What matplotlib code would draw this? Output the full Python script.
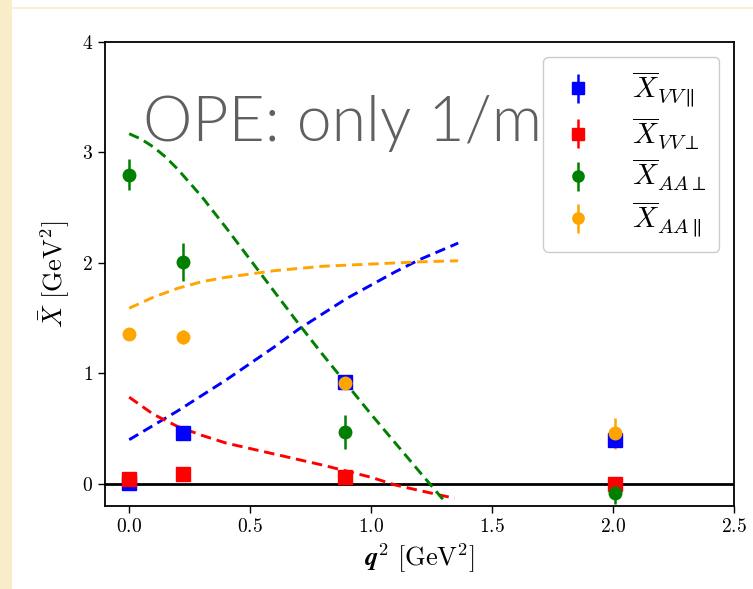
import matplotlib
matplotlib.use("Agg")
import matplotlib.pyplot as plt
from matplotlib.patches import Rectangle
from matplotlib.lines import Line2D
from matplotlib.ticker import FuncFormatter

plt.rcParams['mathtext.fontset'] = 'cm'
plt.rcParams['font.family'] = ['DejaVu Serif']

# ---- data ----
q2 = [0.0, 0.223, 0.894, 2.01]

vv_par = [0.01, 0.46, 0.92, 0.40]
vv_par_err = [0.02, 0.03, 0.03, 0.05]
vv_perp = [0.04, 0.09, 0.06, 0.0]
vv_perp_err = [0.02, 0.02, 0.02, 0.06]
aa_perp = [2.80, 2.01, 0.47, -0.08]
aa_perp_err = [0.14, 0.17, 0.15, 0.10]
aa_par = [1.36, 1.33, 0.91, 0.46]
aa_par_err = [0.05, 0.06, 0.04, 0.14]

# OPE curves (dashed)
ope_x_aa_perp = [0.0, 0.05, 0.1, 0.15, 0.2, 0.3, 0.4, 0.5, 0.6, 0.7, 0.8, 0.9, 1.0, 1.1, 1.2, 1.297]
ope_aa_perp = [3.17, 3.12, 3.05, 2.96, 2.85, 2.60, 2.32, 2.03, 1.74, 1.45, 1.17, 0.90, 0.63, 0.37, 0.11, -0.14]
ope_x = [0.0, 0.1, 0.2, 0.3, 0.4, 0.5, 0.6, 0.7, 0.8, 0.9, 1.0, 1.1, 1.2, 1.36]
ope_aa_par = [1.59, 1.69, 1.77, 1.83, 1.87, 1.90, 1.93, 1.95, 1.97, 1.98, 1.99, 2.00, 2.01, 2.02]
ope_vv_par = [0.40, 0.53, 0.66, 0.80, 0.94, 1.09, 1.24, 1.40, 1.54, 1.68, 1.80, 1.92, 2.03, 2.18]
ope_x_vv_perp = [0.0, 0.1, 0.2, 0.3, 0.4, 0.5, 0.6, 0.7, 0.8, 0.9, 1.0, 1.1, 1.2, 1.345]
ope_vv_perp = [0.785, 0.63, 0.52, 0.44, 0.37, 0.32, 0.27, 0.22, 0.17, 0.115, 0.06, -0.01, -0.06, -0.13]

labels = [r'$\overline{X}_{VV\parallel}$', r'$\overline{X}_{VV\perp}$',
          r'$\overline{X}_{AA\perp}$', r'$\overline{X}_{AA\parallel}$']
colors = ['blue', 'red', 'green', 'orange']
xticks = [0.0, 0.5, 1.0, 1.5, 2.0, 2.5]
yticks = [0, 1, 2, 3, 4]

fig = plt.figure(figsize=(7.53, 5.89), dpi=100)
# parchment strips
fig.patches.append(Rectangle((0, 0), 12 / 753, 1, transform=fig.transFigure,
                             facecolor='#f8ecc9', edgecolor='none', zorder=0))
fig.add_artist(Line2D([12 / 753, 1], [1 - 7.5 / 589] * 2, transform=fig.transFigure,
                      color='#f8ecc9', lw=1.2))

ax = fig.add_axes([105 / 753, 1 - 506 / 589, (734 - 105) / 753, (506 - 42) / 589])

ax.axhline(0, color='black', lw=2.0, zorder=1)

dash = dict(lw=2.1, dashes=(3.6, 2.0))
ax.plot(ope_x, ope_vv_par, '--', color='blue', **dash)
ax.plot(ope_x_vv_perp, ope_vv_perp, '--', color='red', **dash)
ax.plot(ope_x_aa_perp, ope_aa_perp, '--', color='green', **dash)
ax.plot(ope_x, ope_aa_par, '--', color='orange', **dash)

series = [(vv_par, vv_par_err, 's', 9.5), (vv_perp, vv_perp_err, 's', 9.5),
          (aa_perp, aa_perp_err, 'o', 9), (aa_par, aa_par_err, 'o', 9)]
for (vals, errs, mk, ms), c, lab in zip(series, colors, labels):
    ax.errorbar(q2, vals, yerr=errs, fmt=mk, color=c, ms=ms, elinewidth=1.8,
                capsize=0, label=lab, zorder=3)

ax.set_xlim(-0.1, 2.5)
ax.set_ylim(-0.2, 4)
ax.set_xticks(xticks)
ax.set_yticks(yticks)
ax.xaxis.set_major_formatter(FuncFormatter(lambda v, p: r'$%.1f$' % v))
ax.yaxis.set_major_formatter(FuncFormatter(lambda v, p: r'$%d$' % v))
ax.tick_params(labelsize=14, width=1.0, length=5)
for s in ax.spines.values():
    s.set_linewidth(1.3)

ax.set_xlabel(r'$\mathbfit{q}^2\ [\mathrm{GeV}^2]$', fontsize=19, labelpad=4)
ax.set_ylabel(r'$\bar{X}\ [\mathrm{GeV}^2]$', fontsize=19, labelpad=8)

ax.text(143 / 753, 1 - 141 / 589, 'OPE: only 1/m²', transform=fig.transFigure,
        fontsize=45, color='#606060', family='Lato', fontweight=300,
        va='baseline', ha='left', zorder=2, clip_on=False)

leg = ax.legend(loc='upper right', fontsize=21, labelspacing=0.22, handletextpad=1.1,
                borderpad=0.45, borderaxespad=0.5, fancybox=True, framealpha=1.0,
                edgecolor='#cccccc', handlelength=1.5, markerscale=0.9)
leg.set_zorder(5)

fig.savefig('out.png', dpi=100)
